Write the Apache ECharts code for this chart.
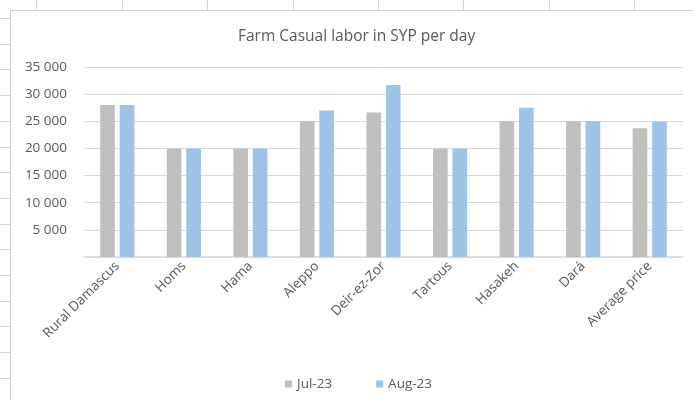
<!DOCTYPE html>
<html>
<head>
<meta charset="utf-8">
<script src="https://cdn.jsdelivr.net/npm/echarts@6/dist/echarts.min.js"></script>
<style>
html,body{margin:0;padding:0;background:#fff;}
#c{width:693px;height:400px;}
</style>
</head>
<body>
<div id="c"></div>
<script>
const categories = ["Rural Damascus","Homs","Hama","Aleppo","Deir-ez-Zor","Tartous","Hasakeh","Dará","Average price"];
const jul23 = [28000,20000,20000,25000,26600,20000,25000,25000,23700];
const aug23 = [28000,20000,20000,27000,31700,20000,27500,25000,24900];
const seriesNames = ["Jul-23","Aug-23"];
const titleText = "Farm Casual labor in SYP per day";

const chart = echarts.init(document.getElementById('c'));
const font = "'Open Sans', 'Liberation Sans', sans-serif";
const txt = '#595959';

// spreadsheet cell gridlines around the chart frame
const gfx = [];
const colXs = [36,122,207,293,378,463,549,634];
colXs.forEach(x => gfx.push({type:'line',shape:{x1:x+0.5,y1:0,x2:x+0.5,y2:10},style:{stroke:'#d4d4d4',lineWidth:1}}));
for (let y = 18; y < 400; y += 25.7) {
  gfx.push({type:'line',shape:{x1:0,y1:Math.round(y)+0.5,x2:10,y2:Math.round(y)+0.5},style:{stroke:'#d4d4d4',lineWidth:1}});
}
gfx.push({type:'line',shape:{x1:10.5,y1:10,x2:10.5,y2:400},style:{stroke:'#d0d0d0',lineWidth:1}});
gfx.push({type:'line',shape:{x1:10,y1:10.5,x2:693,y2:10.5},style:{stroke:'#d0d0d0',lineWidth:1}});

chart.setOption({
  animation:false,
  backgroundColor:'#fff',
  graphic: gfx,
  title:{text:titleText,left:233,top:24,
    textStyle:{color:txt,fontSize:15.5,fontWeight:'normal',fontFamily:font}},
  legend:{data:seriesNames,top:372,left:280,itemWidth:7,itemHeight:7,itemGap:44,
    icon:'rect',textStyle:{color:txt,fontSize:13.5,fontFamily:font}},
  grid:{left:84,right:10,top:67,bottom:143,containLabel:false},
  xAxis:{type:'category',data:categories,
    axisLine:{lineStyle:{color:'#d9d9d9',width:1.5}},axisTick:{show:false},
    axisLabel:{rotate:45,color:txt,fontSize:13.5,fontFamily:font,interval:0,margin:7}},
  yAxis:{type:'value',min:0,max:35000,interval:5000,
    axisLine:{show:false},axisTick:{show:false},
    splitLine:{lineStyle:{color:'#d9d9d9',width:1}},
    axisLabel:{color:txt,fontSize:13.5,fontFamily:font,margin:17,
      formatter:v=> v===0 ? '' : String(v).replace(/\B(?=(\d{3})+(?!\d))/g,' ')}},
  series:[
    {name:seriesNames[0],type:'bar',data:jul23,barWidth:'22%',barGap:'33%',itemStyle:{color:'#BFBFBF'}},
    {name:seriesNames[1],type:'bar',data:aug23,barWidth:'22%',itemStyle:{color:'#9DC3E6'}}
  ]
});
</script>
</body>
</html>
